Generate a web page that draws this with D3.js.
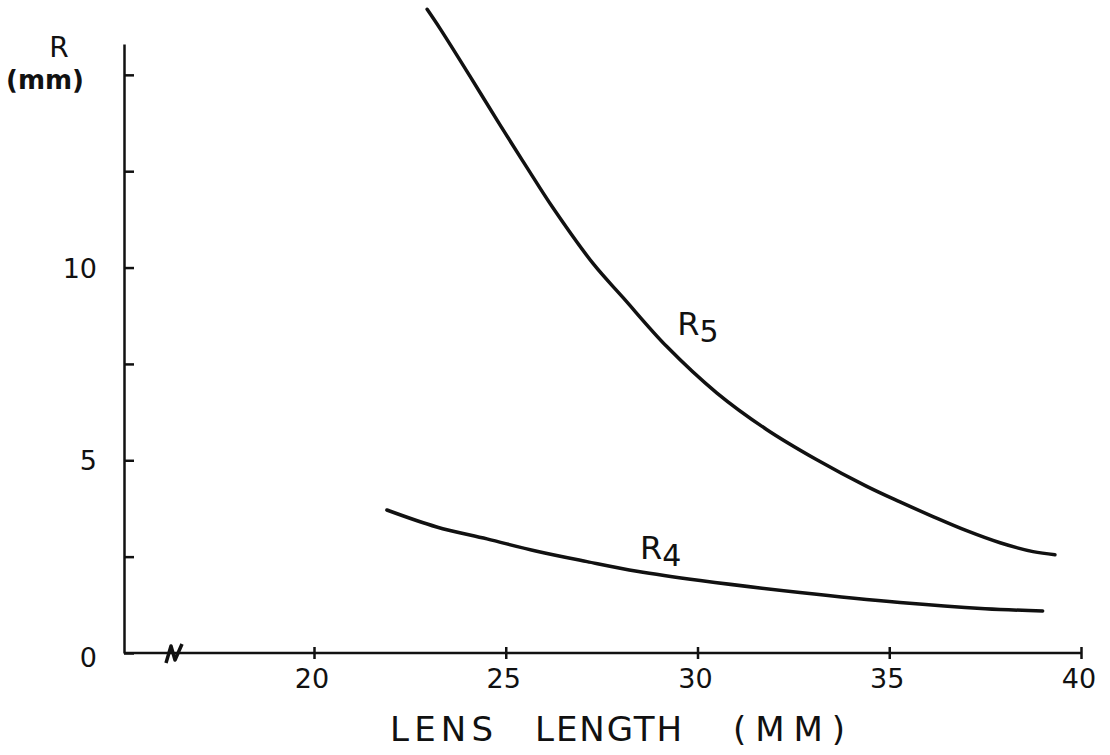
<!DOCTYPE html>
<html>
<head>
<meta charset="utf-8">
<script src="https://cdn.jsdelivr.net/npm/d3@7/dist/d3.min.js"></script>
<style>
  html,body{margin:0;padding:0;background:#fff;}
  svg{display:block;}
  text{font-family:"DejaVu Sans",sans-serif;fill:#111;}
</style>
</head>
<body>
<svg id="chart" width="1110" height="755"></svg>
<script>
// values
const r5Len = [22.95, 23.3, 24.07, 24.85, 25.55, 26.23, 27.28, 28.06, 29.2, 30.5, 31.8, 33.1, 34.4, 35.28, 36.14, 37.0, 37.89, 38.75, 39.32];
const r5Val = [16.7, 16.18, 14.96, 13.7, 12.6, 11.55, 10.1, 9.22, 7.95, 6.75, 5.8, 5.02, 4.33, 3.92, 3.54, 3.18, 2.86, 2.63, 2.55];
const r4Len = [21.9, 23.2, 24.51, 25.81, 27.12, 28.42, 30.07, 32.67, 35.28, 37.5, 39.0];
const r4Val = [3.71, 3.27, 2.96, 2.64, 2.37, 2.12, 1.88, 1.57, 1.31, 1.15, 1.09];

const xTicks = [20, 25, 30, 35, 40];
const yTicks = [0, 2.5, 5, 7.5, 10, 12.5, 15];
const yLabels = [0, 5, 10];

const originX = 124;
const x = d3.scaleLinear().domain([20, 40]).range([314, 1081]);
const y = d3.scaleLinear().domain([0, 15.8]).range([653, 44]);

const svg = d3.select('#chart');
const ink = '#111';

// y axis: ticks point inward, only 0/5/10 labelled
const yAxis = svg.append('g').attr('transform', `translate(${originX},0)`)
  .call(d3.axisRight(y).tickValues(yTicks).tickSize(10).tickSizeOuter(0).tickFormat(''));
yAxis.select('.domain').attr('stroke', ink).attr('stroke-width', 2.5);
yAxis.selectAll('.tick line').attr('stroke', ink).attr('stroke-width', 2.5);

svg.append('g').selectAll('text').data(yLabels).enter().append('text')
  .attr('x', originX - 27)
  .attr('y', d => y(d) + (d === 0 ? 14 : 10))
  .attr('text-anchor', 'end')
  .attr('font-size', 27)
  .text(d => d);

// x axis, broken between the origin and 20
const xAxis = svg.append('g').attr('transform', `translate(0,${y(0)})`)
  .call(d3.axisBottom(x).tickValues(xTicks).tickSize(6).tickSizeOuter(0).tickFormat(''));
xAxis.select('.domain').remove();
xAxis.selectAll('.tick line').attr('y1', -6).attr('stroke', ink).attr('stroke-width', 2.5);
xAxis.insert('line', ':first-child')
  .attr('x1', originX).attr('x2', x(40))
  .attr('stroke', ink).attr('stroke-width', 2.5);
xAxis.append('path')
  .attr('d', 'M166,10 L171,-7 L175,7 L182,-9')
  .attr('fill', 'none').attr('stroke', ink).attr('stroke-width', 3.5)
  .attr('stroke-linejoin', 'round');

svg.append('g').selectAll('text').data(xTicks).enter().append('text')
  .attr('x', d => x(d) - 2)
  .attr('y', y(0) + 35)
  .attr('text-anchor', 'middle')
  .attr('font-size', 27)
  .text(d => d);

// axis titles
const xTitle = [['LENS', 390, 103], ['LENGTH', 535, 147], ['(MM)', 733, 112]];
svg.append('g').selectAll('text').data(xTitle).enter().append('text')
  .attr('x', d => d[1]).attr('y', 741)
  .attr('font-size', 34)
  .attr('textLength', d => d[2]).attr('lengthAdjust', 'spacing')
  .text(d => d[0]);

svg.append('text').attr('x', 59).attr('y', 57).attr('text-anchor', 'middle')
  .attr('font-size', 28).text('R');
svg.append('text').attr('x', 45).attr('y', 89).attr('text-anchor', 'middle')
  .attr('font-size', 26).attr('font-weight', 'bold').text('(mm)');

// curves
const line = d3.line().x(d => x(d[0])).y(d => y(d[1])).curve(d3.curveCatmullRom.alpha(0.5));
const series = [
  {name: '5', pts: d3.zip(r5Len, r5Val), lab: [29.47, 8.25]},
  {name: '4', pts: d3.zip(r4Len, r4Val), lab: [28.5, 2.45]}
];
svg.append('g').selectAll('path').data(series).enter().append('path')
  .attr('d', d => line(d.pts))
  .attr('fill', 'none').attr('stroke', ink).attr('stroke-width', 3.5)
  .attr('stroke-linecap', 'round');

const labs = svg.append('g').selectAll('text').data(series).enter().append('text')
  .attr('x', d => x(d.lab[0])).attr('y', d => y(d.lab[1]))
  .attr('font-size', 32);
labs.append('tspan').text('R');
labs.append('tspan').attr('font-size', 30).attr('dy', 7).text(d => d.name);
</script>
</body>
</html>
